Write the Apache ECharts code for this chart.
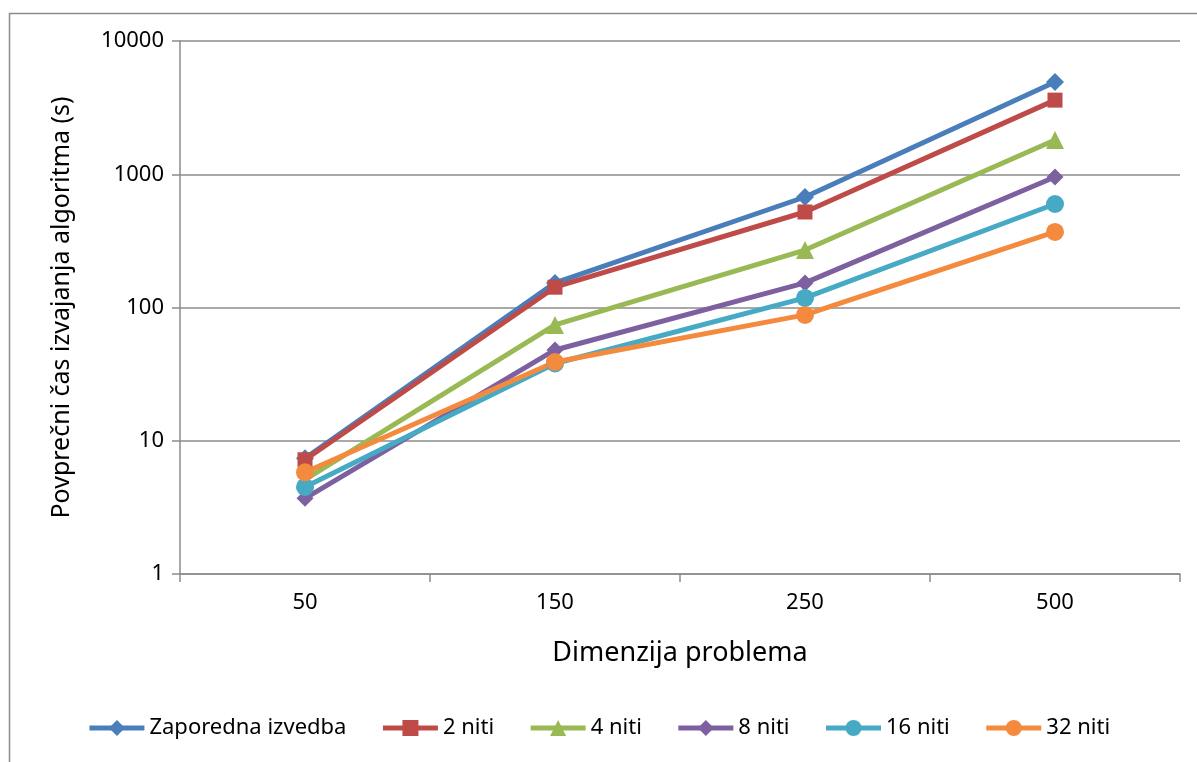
<!DOCTYPE html>
<html>
<head>
<meta charset="utf-8">
<title>Povprečni čas izvajanja algoritma</title>
<script src="https://cdn.jsdelivr.net/npm/echarts@6/dist/echarts.min.js"></script>
<style>
  html, body { margin: 0; padding: 0; background: #fff; }
  #chart { width: 1197px; height: 762px; }
</style>
</head>
<body>
<div id="chart"></div>
<script>
// podatki
var dimenzije = ['50', '150', '250', '500'];
var imena = ['Zaporedna izvedba', '2 niti', '4 niti', '8 niti', '16 niti', '32 niti'];
var zaporedna = [7.4, 153, 675, 4920];
var niti2 = [7.2, 142, 521, 3600];
var niti4 = [5.1, 74, 270, 1810];
var niti8 = [3.7, 48, 153, 953];
var niti16 = [4.5, 38, 118, 598];
var niti32 = [5.8, 39, 88, 369];
var yTicks = [1, 10, 100, 1000, 10000];

var barve = ['#4A7EBB', '#BE4B48', '#98B954', '#7D60A0', '#46AAC5', '#F38A3E'];
var simboli = ['diamond', 'rect', 'triangle', 'diamond', 'circle', 'circle'];
var velikosti = [18, 15, 18, 17, 18, 18];
var vrednosti = [zaporedna, niti2, niti4, niti8, niti16, niti32];

(function(){
  var myChart = echarts.init(document.getElementById('chart'));
  var font = 'Noto Sans';

  var series = [];
  for (var i = 0; i < imena.length; i++) {
    series.push({
      name: imena[i],
      type: 'line',
      data: vrednosti[i],
      symbol: simboli[i],
      symbolSize: velikosti[i],
      showAllSymbol: true,
      lineStyle: { color: barve[i], width: 5 },
      itemStyle: { color: barve[i] },
      emphasis: { disabled: true }
    });
  }

  var option = {
    animation: false,
    color: barve,
    textStyle: { fontFamily: font },
    //okvir okoli grafa
    graphic: [{
      type: 'rect',
      left: 7, top: 11,
      shape: { width: 1200, height: 800 },
      style: { fill: 'none', stroke: '#8c8c8c', lineWidth: 1.5 },
      silent: true
    }],
    grid: {
      left: 180,
      right: 17,
      top: 41,
      bottom: 188,
      containLabel: false
    },
    legend: {
      bottom: 18,
      left: 'center',
      itemWidth: 55,
      itemHeight: 20,
      itemGap: 34,
      lineStyle: { width: 5 },
      textStyle: { fontFamily: font, fontSize: 22, color: '#000' },
      data: imena
    },
    xAxis: {
      type: 'category',
      data: dimenzije,
      boundaryGap: true,
      name: 'Dimenzija problema',
      nameLocation: 'middle',
      nameGap: 66,
      nameTextStyle: { fontFamily: font, fontSize: 27, color: '#000' },
      axisLine: { lineStyle: { color: '#8c8c8c', width: 1.5 } },
      axisTick: { show: true, length: 8, lineStyle: { color: '#8c8c8c', width: 1.5 } },
      axisLabel: { fontFamily: font, fontSize: 22, color: '#000', margin: 18 }
    },
    yAxis: {
      type: 'log',
      logBase: 10,
      min: yTicks[0],
      max: yTicks[yTicks.length - 1],
      name: 'Povprečni čas izvajanja algoritma (s)',
      nameLocation: 'middle',
      nameGap: 106,
      nameTextStyle: { fontFamily: font, fontSize: 25, color: '#000' },
      axisLine: { show: true, lineStyle: { color: '#8c8c8c', width: 1.5 } },
      axisTick: { show: true, length: 8, lineStyle: { color: '#8c8c8c', width: 1.5 } },
      axisLabel: {
        fontFamily: font, fontSize: 22, color: '#000', margin: 16,
        formatter: function (v) { return String(Math.round(v)); }
      },
      splitLine: { show: true, lineStyle: { color: '#8c8c8c', width: 1.5 } }
    },
    series: series
  };

  myChart.setOption(option);
  window.addEventListener('resize', function(){
    myChart.resize();
  });
})();
</script>
</body>
</html>
